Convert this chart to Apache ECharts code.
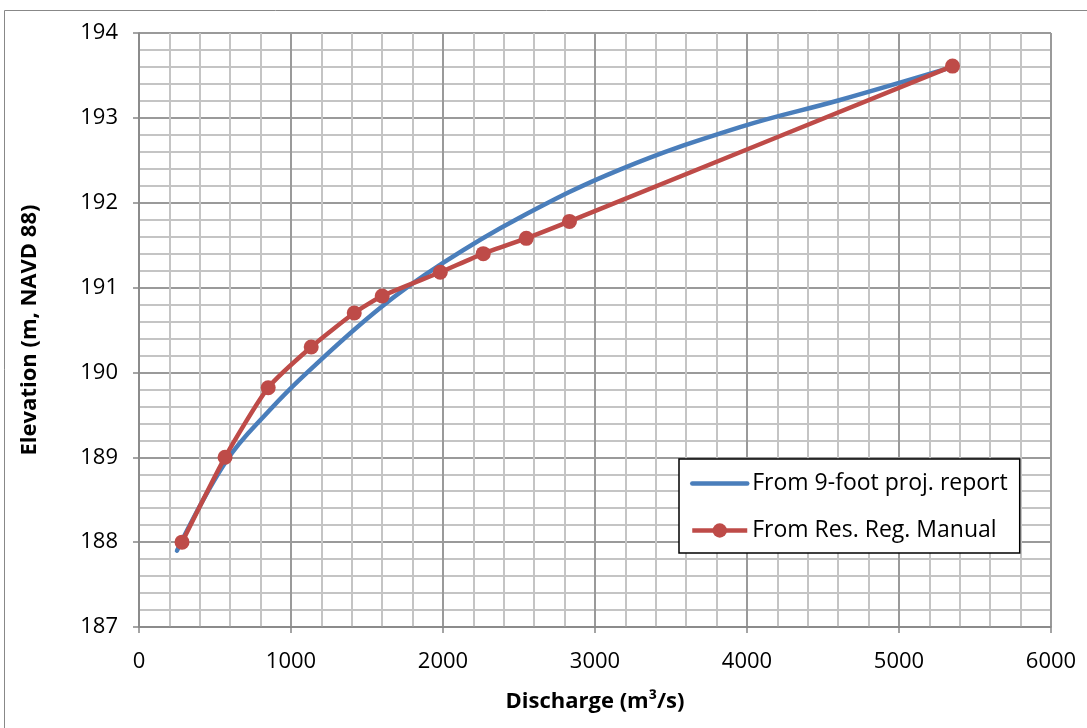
<!DOCTYPE html>
<html>
<head>
<meta charset="utf-8">
<script src="https://cdn.jsdelivr.net/npm/echarts@6/dist/echarts.min.js"></script>
<style>html,body{margin:0;padding:0;background:#fff;}#c{width:1087px;height:728px;}</style>
</head>
<body>
<div id="c"></div>
<script>
var seriesNames = ['From 9-foot proj. report', 'From Res. Reg. Manual'];
var blueQ = [250, 572, 862, 1125, 1586, 2000, 2500, 3164, 3954, 4612, 5355];
var blueH = [187.9, 188.95, 189.56, 190.03, 190.76, 191.29, 191.82, 192.39, 192.89, 193.21, 193.6];
var redQ = [283, 566, 850, 1133, 1416, 1600, 1982, 2265, 2548, 2832, 5352];
var redH = [188.0, 189.0, 189.82, 190.3, 190.7, 190.9, 191.18, 191.4, 191.58, 191.78, 193.61];
var xTitle = 'Discharge (m³/s)';
var yTitle = 'Elevation (m, NAVD 88)';

function pairs(a, b) { return a.map(function (v, i) { return [v, b[i]]; }); }

var font = 'Open Sans';
var chart = echarts.init(document.getElementById('c'), null, { renderer: 'canvas' });
chart.setOption({
  animation: false,
  backgroundColor: '#fff',
  graphic: [{
    type: 'rect', shape: { x: 4.5, y: 10.5, width: 1100, height: 740 },
    style: { fill: 'none', stroke: '#888', lineWidth: 1 }, silent: true, z: -10
  }],
  grid: { left: 139, right: 36, top: 33, bottom: 101, containLabel: false },
  xAxis: {
    type: 'value', min: 0, max: 6000, interval: 1000,
    name: xTitle, nameLocation: 'middle', nameGap: 64,
    nameTextStyle: { fontFamily: font, fontSize: 22, fontWeight: 'bold', color: '#000' },
    axisLine: { show: true, lineStyle: { color: '#868686', width: 1.5 } },
    axisTick: { show: true, length: 6, inside: false, lineStyle: { color: '#868686', width: 1.5 } },
    axisLabel: { fontFamily: font, fontSize: 22, color: '#000', margin: 24, formatter: function (v) { return String(v); } },
    splitLine: { show: true, lineStyle: { color: '#9a9a9a', width: 2 } },
    minorTick: { show: false, splitNumber: 5 },
    minorSplitLine: { show: true, lineStyle: { color: '#c4c4c4', width: 2 } }
  },
  yAxis: {
    type: 'value', min: 187, max: 194, interval: 1,
    name: yTitle, nameLocation: 'middle', nameGap: 98, nameRotate: 90,
    nameTextStyle: { fontFamily: font, fontSize: 22, fontWeight: 'bold', color: '#000' },
    axisLine: { show: true, lineStyle: { color: '#868686', width: 1.5 } },
    axisTick: { show: true, length: 6, inside: false, lineStyle: { color: '#868686', width: 1.5 } },
    axisLabel: { fontFamily: font, fontSize: 22, color: '#000', margin: 21 },
    splitLine: { show: true, lineStyle: { color: '#9a9a9a', width: 2 } },
    minorTick: { show: false, splitNumber: 5 },
    minorSplitLine: { show: true, lineStyle: { color: '#c4c4c4', width: 2 } }
  },
  legend: {
    orient: 'vertical', left: 679, top: 459,
    padding: [13, 12, 11, 11],
    itemGap: 24, itemWidth: 55, itemHeight: 18,
    backgroundColor: '#fff', borderColor: '#000', borderWidth: 1.5, borderRadius: 0,
    lineStyle: { width: 4.5 },
    textStyle: { fontFamily: font, fontSize: 23, color: '#000' },
    data: [
      { name: seriesNames[0], itemStyle: { opacity: 0 } },
      { name: seriesNames[1] }
    ]
  },
  series: [{
    name: seriesNames[0], type: 'line', data: pairs(blueQ, blueH),
    smooth: 0.4, symbol: 'none', z: 2,
    lineStyle: { color: '#4A7EBB', width: 4.5, cap: 'round' },
    itemStyle: { color: '#4A7EBB' }
  }, {
    name: seriesNames[1], type: 'line', data: pairs(redQ, redH),
    smooth: 0.2, symbol: 'circle', symbolSize: 15, z: 3,
    lineStyle: { color: '#BE4B48', width: 4.5 },
    itemStyle: { color: '#BE4B48' }
  }]
});
</script>
</body>
</html>
